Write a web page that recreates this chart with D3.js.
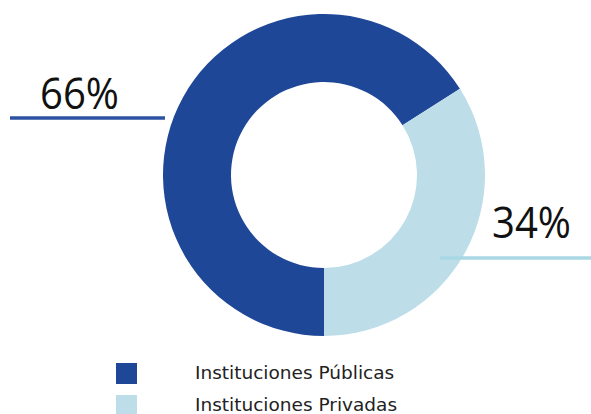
<!DOCTYPE html>
<html>
<head>
<meta charset="utf-8">
<script src="https://cdn.jsdelivr.net/npm/d3@7"></script>
<style>
  body { margin: 0; background: #fff; }
</style>
</head>
<body>
<script>
// data
var categories = ['Instituciones Públicas', 'Instituciones Privadas'];
var shares = [66, 34];
var labels = ['66%', '34%'];
var colors = ['#1f4797', '#bddde9'];
var lineColors = ['#2d52a3', '#a9d8e4'];

var width = 591, height = 414;
var cx = 324, cy = 175;
var outerR = 161, innerR = 93;

var svg = d3.select('body')
    .append('svg')
    .attr('width', width)
    .attr('height', height);

var pie = d3.pie()
    .sort(null)
    .startAngle(Math.PI)
    .endAngle(Math.PI * 3);

var arc = d3.arc()
    .innerRadius(innerR)
    .outerRadius(outerR);

var g = svg.append('g')
    .attr('transform', 'translate(' + cx + ',' + cy + ')');

g.selectAll('path')
    .data(pie(shares))
    .enter()
    .append('path')
    .attr('d', arc)
    .attr('fill', function(d, i) { return colors[i]; });

// label lines + percentages
var labelPos = [
    { x1: 10, x2: 165, y: 118, tx: 40, ty: 109 },
    { x1: 440, x2: 591, y: 258, tx: 492, ty: 238 }
];

svg.selectAll('line.lbl')
    .data(labelPos)
    .enter()
    .append('line')
    .attr('class', 'lbl')
    .attr('x1', function(d) { return d.x1; })
    .attr('x2', function(d) { return d.x2; })
    .attr('y1', function(d) { return d.y; })
    .attr('y2', function(d) { return d.y; })
    .style('stroke', function(d, i) { return lineColors[i]; })
    .style('stroke-width', 3.5);

svg.selectAll('text.pct')
    .data(labelPos)
    .enter()
    .append('text')
    .attr('class', 'pct')
    .attr('x', function(d) { return d.tx; })
    .attr('y', function(d) { return d.ty; })
    .attr('textLength', 79)
    .attr('lengthAdjust', 'spacingAndGlyphs')
    .style('font-family', 'Open Sans, sans-serif')
    .style('font-size', '44px')
    .style('fill', '#111')
    .text(function(d, i) { return labels[i]; });

// legend
var legend = svg.selectAll('g.legend')
    .data(categories)
    .enter()
    .append('g')
    .attr('class', 'legend')
    .attr('transform', function(d, i) { return 'translate(116,' + (363 + i * 32) + ')'; });

legend.append('rect')
    .attr('width', 21)
    .attr('height', 21)
    .attr('fill', function(d, i) { return colors[i]; });

legend.append('text')
    .attr('x', 79)
    .attr('y', 16)
    .style('font-family', 'DejaVu Sans, sans-serif')
    .style('font-size', '18.5px')
    .style('fill', '#222')
    .text(function(d) { return d; });
</script>
</body>
</html>
